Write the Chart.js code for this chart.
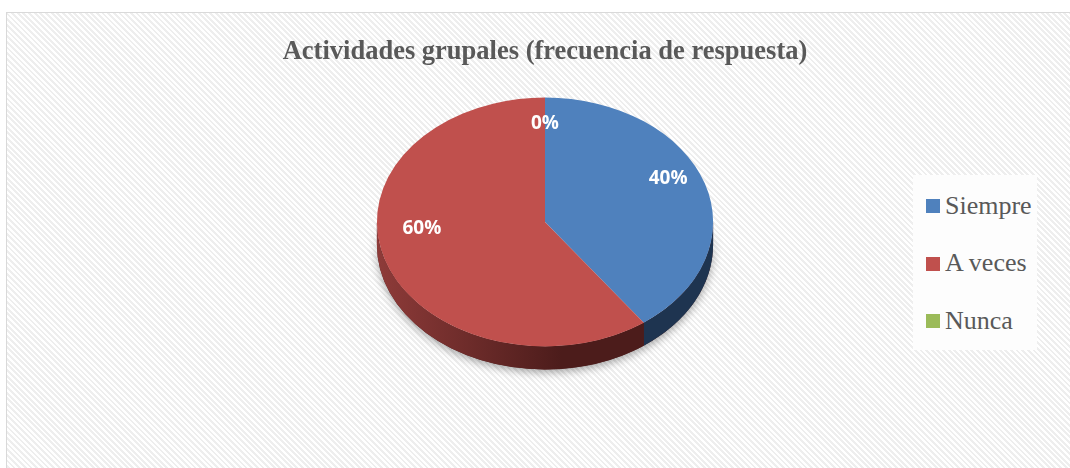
<!DOCTYPE html>
<html>
<head>
<meta charset="utf-8">
<script src="https://cdn.jsdelivr.net/npm/chart.js@4.4.1/dist/chart.umd.min.js"></script>
<style>
    html, body { margin: 0; padding: 0; background: #fff; }
    body { width: 1070px; height: 468px; overflow: hidden; position: relative; }
    #frame {
        position: absolute; left: 6px; top: 12px; width: 1090px; height: 480px;
        border: 1px solid #d9d9d9;
        background: repeating-linear-gradient(45deg, #ffffff 0px, #ffffff 2px, #eeeeee 2px, #eeeeee 4px);
    }
    #chart { position: absolute; left: 0; top: 0; }
    #legend {
        position: absolute; left: 913px; top: 175px; width: 124px; height: 175px;
        background: #fdfdfd; box-sizing: border-box; padding-top: 2px;
        font-family: "Liberation Serif", "Times New Roman", serif; font-size: 26px; color: #595959;
    }
    .item { height: 57.5px; display: flex; align-items: center; padding-left: 13px; }
    .item .box { width: 14px; height: 14px; margin-right: 5px; margin-top: 1px; }
</style>
</head>
<body>
<div id="frame"></div>
<canvas id="chart" width="1070" height="468"></canvas>
<div id="legend"></div>

<script>
// Data
const categories = ['Siempre', 'A veces', 'Nunca'];
const percentages = [40, 60, 0];
const chartTitle = 'Actividades grupales (frecuencia de respuesta)';

// Colors (Office 2007 palette)
const topColors = ['#4f81bd', '#c0504d', '#9bbb59'];
const sideColors = [['#2c4a70', '#1e3450'], ['#8e3b39', '#4c1c1b'], ['#6d8a3a', '#4f6a2a']];

// 3D look
const PIE_CY = 222;    // center of the tilted top face
const TILT = 0.74;     // vertical squash of the circle
const DEPTH = 23;      // thickness of the pie
const LABEL_RX = 0.77; // label distance from center, horizontal (fraction of radius)
const LABEL_RY = 0.65; // same, vertical
const LABEL_LIFT = 18; // perspective pushes labels up a bit

// parts of [a1, a2] lying on the front half (0..PI, mod 2PI)
function frontRanges(a1, a2) {
    const out = [];
    for (let k = -1; k <= 2; k++) {
        const lo = Math.max(a1, 2 * Math.PI * k);
        const hi = Math.min(a2, 2 * Math.PI * k + Math.PI);
        if (hi > lo) out.push([lo, hi]);
    }
    return out;
}

function bandPath(ctx, cx, rx, ry, a, b) {
    ctx.beginPath();
    ctx.ellipse(cx, PIE_CY, rx, ry, 0, a, b);
    ctx.ellipse(cx, PIE_CY + DEPTH, rx, ry, 0, b, a, true);
    ctx.closePath();
}

const pie3d = {
    id: 'pie3d',
    beforeDatasetsDraw(chart) {
        const ctx = chart.ctx;
        const arcs = chart.getDatasetMeta(0).data;
        const cx = arcs[0].x, cy = arcs[0].y;
        const rx = arcs[0].outerRadius, ry = rx * TILT;

        // soft shadow under the whole front wall
        ctx.save();
        bandPath(ctx, cx, rx, ry, 0, Math.PI);
        ctx.shadowColor = 'rgba(0,0,0,0.35)';
        ctx.shadowBlur = 8;
        ctx.shadowOffsetY = 3;
        ctx.fillStyle = '#4c1c1b';
        ctx.fill();
        ctx.restore();

        // side walls of each slice
        arcs.forEach((arc, i) => {
            frontRanges(arc.startAngle, arc.endAngle).forEach(([a, b]) => {
                const g = ctx.createLinearGradient(cx - rx, 0, cx + rx, 0);
                g.addColorStop(0, sideColors[i][0]);
                g.addColorStop(0.55, sideColors[i][1]);
                g.addColorStop(1, sideColors[i][1]);
                bandPath(ctx, cx, rx, ry, a, b);
                ctx.fillStyle = g;
                ctx.fill();
            });
        });

        // squash the flat pie into the tilted top face
        ctx.save();
        ctx.translate(cx, PIE_CY);
        ctx.scale(1, TILT);
        ctx.translate(-cx, -cy);
    },
    afterDatasetsDraw(chart) {
        const ctx = chart.ctx;
        ctx.restore();

        const arcs = chart.getDatasetMeta(0).data;
        const cx = arcs[0].x;
        const rx = arcs[0].outerRadius, ry = rx * TILT;

        ctx.save();
        ctx.font = 'bold 19px "Open Sans", sans-serif';
        ctx.fillStyle = '#ffffff';
        ctx.textAlign = 'center';
        ctx.textBaseline = 'middle';
        arcs.forEach((arc, i) => {
            const mid = (arc.startAngle + arc.endAngle) / 2;
            const x = cx + Math.cos(mid) * rx * LABEL_RX;
            const y = PIE_CY + Math.sin(mid) * ry * LABEL_RY - LABEL_LIFT;
            ctx.fillText(percentages[i] + '%', x, y);
        });
        ctx.restore();
    }
};

const chart = new Chart(document.getElementById('chart'), {
    type: 'pie',
    data: {
        labels: categories,
        datasets: [{
            data: percentages,
            backgroundColor: topColors,
            borderWidth: 0
        }]
    },
    options: {
        responsive: false,
        devicePixelRatio: 1,
        animation: false,
        events: [],
        layout: { padding: { left: 20, right: 0, top: 0, bottom: 54 } },
        plugins: {
            legend: { display: false },
            tooltip: { enabled: false },
            title: {
                display: true,
                text: chartTitle,
                color: '#595959',
                font: { family: '"Liberation Serif", "Times New Roman", serif', size: 26.5, weight: 'bold' },
                padding: { top: 36, bottom: 10 }
            }
        }
    },
    plugins: [pie3d]
});

// Legend
const legend = document.getElementById('legend');
categories.forEach((name, i) => {
    const item = document.createElement('div');
    item.className = 'item';
    item.innerHTML = `<span class="box" style="background:${topColors[i]}"></span><span>${name}</span>`;
    legend.appendChild(item);
});
</script>
</body>
</html>
